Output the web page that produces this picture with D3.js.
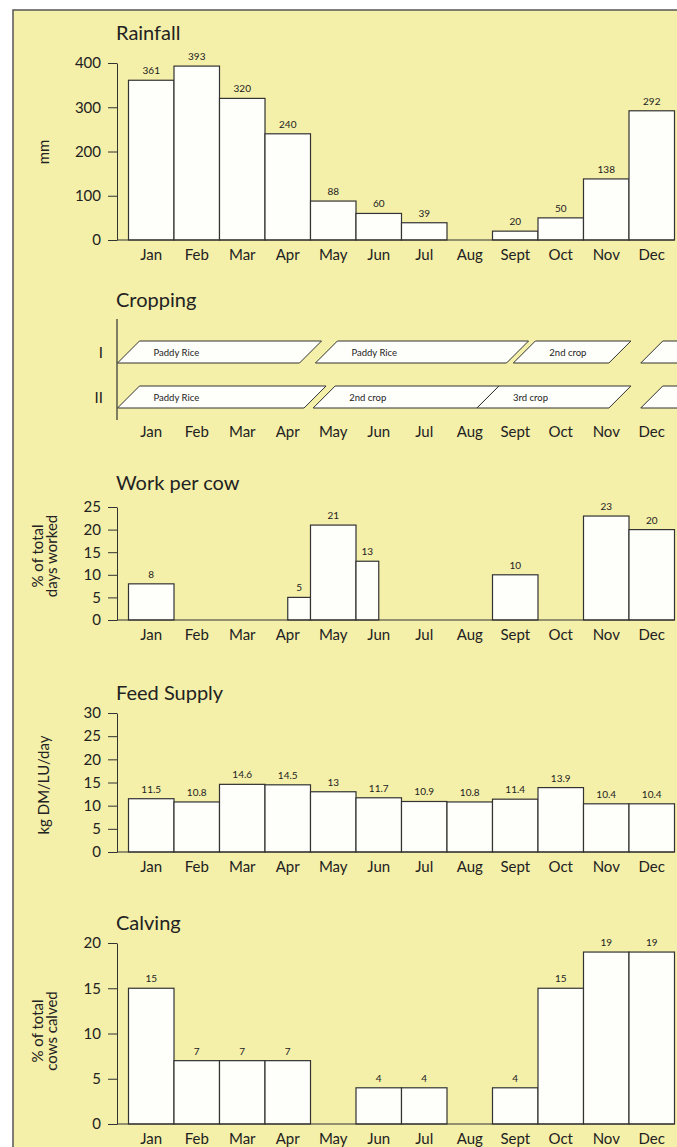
<!DOCTYPE html>
<html>
<head>
<meta charset="utf-8">
<script src="https://cdn.jsdelivr.net/npm/d3@7"></script>
<style>
  body { margin: 0; background: #fff; }
  svg { display: block; font-family: Lato, "Noto Sans", sans-serif; }
</style>
</head>
<body>
<div id="chart"></div>
<script>
// data
const months = ["Jan", "Feb", "Mar", "Apr", "May", "Jun", "Jul", "Aug", "Sept", "Oct", "Nov", "Dec"];

const rainfall = [361, 393, 320, 240, 88, 60, 39, null, 20, 50, 138, 292];
const rainTicks = [0, 100, 200, 300, 400];

const workPerCow = [8, null, null, 5, 21, 13, null, null, 10, null, 23, 20];
// part of the month covered by the work bar (from, to)
const workFrom = [0, null, null, 0.5, 0, 0, null, null, 0, null, 0, 0];
const workTo = [1, null, null, 1, 1, 0.5, null, null, 1, null, 1, 1];
const workTicks = [0, 5, 10, 15, 20, 25];

const feedSupply = [11.5, 10.8, 14.6, 14.5, 13, 11.7, 10.9, 10.8, 11.4, 13.9, 10.4, 10.4];
const feedTicks = [0, 5, 10, 15, 20, 25, 30];

const calving = [15, 7, 7, 7, null, 4, 4, null, 4, 15, 19, 19];
const calvTicks = [0, 5, 10, 15, 20];

// cropping periods, in months from 1 Jan
const cropRows = ["I", "II"];
const cropRow = ["I", "I", "I", "I", "II", "II", "II", "II"];
const cropName = ["Paddy Rice", "Paddy Rice", "2nd crop", "", "Paddy Rice", "2nd crop", "3rd crop", ""];
const cropStart = [0, 4.35, 8.7, 11.5, 0, 4.3, 7.9, 11.5];
const cropEnd = [4, 8.55, 10.8, 13, 4.1, 7.9, 10.8, 13];

const W = 677, H = 1147;
const ink = "#222", line = "#333";

const svg = d3.select("#chart").append("svg")
  .attr("width", W)
  .attr("height", H);

svg.append("rect")
  .attr("x", 13).attr("y", 10)
  .attr("width", W - 13).attr("height", H - 10)
  .attr("fill", "#f4efa9");

svg.append("path")
  .attr("d", "M13," + H + "V10H" + W)
  .attr("fill", "none")
  .attr("stroke", "#555")
  .attr("stroke-width", 1.5);

const axisX = 117;
const x = d3.scaleBand().domain(months).range([128.5, 674.5]);
const xm = d3.scaleLinear().domain([0, 12]).range([128.5, 674.5]);

function title(text, y) {
  svg.append("text")
    .attr("x", 116).attr("y", y)
    .attr("font-size", 20)
    .attr("fill", ink)
    .text(text);
}

function yLabel(lines, cx, cy) {
  lines.forEach((t, i) => {
    svg.append("text")
      .attr("transform", "translate(" + (cx + i * 14) + "," + cy + ") rotate(-90)")
      .attr("text-anchor", "middle")
      .attr("dominant-baseline", "central")
      .attr("font-size", 15)
      .attr("fill", ink)
      .text(t);
  });
}

function monthAxis(yPos) {
  const g = svg.append("g")
    .attr("transform", "translate(0," + yPos + ")")
    .call(d3.axisBottom(x).tickSize(0).tickPadding(9));
  g.select(".domain").remove();
  g.attr("font-family", null).attr("font-size", 15);
  g.selectAll("text").attr("fill", ink);
}

function barPanel(o) {
  const y = d3.scaleLinear().domain([0, d3.max(o.ticks)]).range([o.base, o.top]);
  title(o.title, o.titleY);
  yLabel(o.yLabel, o.yLabelX, o.yLabelY);

  const ya = svg.append("g")
    .attr("transform", "translate(" + axisX + ",0)")
    .call(d3.axisLeft(y).tickValues(o.ticks).tickSize(9).tickSizeOuter(0).tickPadding(7));
  ya.attr("font-family", null).attr("font-size", 15);
  ya.selectAll("text").attr("fill", ink);
  ya.selectAll("line, path").attr("stroke", line);

  const idx = o.values.map((v, i) => i).filter((i) => o.values[i] != null);
  const from = (i) => o.from ? o.from[i] : 0;
  const to = (i) => o.to ? o.to[i] : 1;

  svg.append("g").selectAll("rect")
    .data(idx)
    .enter()
    .append("rect")
    .attr("x", (i) => xm(i + from(i)))
    .attr("width", (i) => xm(i + to(i)) - xm(i + from(i)))
    .attr("y", (i) => y(o.values[i]))
    .attr("height", (i) => o.base - y(o.values[i]))
    .attr("fill", "#fefefb")
    .attr("stroke", line)
    .attr("stroke-width", 1.2);

  svg.append("g").selectAll("text")
    .data(idx)
    .enter()
    .append("text")
    .attr("x", (i) => (xm(i + from(i)) + xm(i + to(i))) / 2)
    .attr("y", (i) => y(o.values[i]) - 6)
    .attr("text-anchor", "middle")
    .attr("font-size", 10)
    .attr("fill", ink)
    .text((i) => o.values[i]);

  svg.append("line")
    .attr("x1", axisX).attr("x2", 674.5)
    .attr("y1", o.base).attr("y2", o.base)
    .attr("stroke", line)
    .attr("stroke-width", 1.2);

  monthAxis(o.base);
}

// Rainfall
barPanel({
  title: "Rainfall", titleY: 40,
  top: 63, base: 240, ticks: rainTicks, values: rainfall,
  yLabel: ["mm"], yLabelX: 43, yLabelY: 152
});

// Cropping
title("Cropping", 307);
svg.append("line")
  .attr("x1", axisX).attr("x2", axisX)
  .attr("y1", 319).attr("y2", 420)
  .attr("stroke", line)
  .attr("stroke-width", 1.2);

const yRow = d3.scaleBand().domain(cropRows).range([341, 408]).paddingInner(23 / 45);
const slant = yRow.bandwidth();

svg.append("g").selectAll("text")
  .data(cropRows)
  .enter()
  .append("text")
  .attr("x", 103)
  .attr("y", (r) => yRow(r) + yRow.bandwidth() / 2)
  .attr("text-anchor", "end")
  .attr("dominant-baseline", "central")
  .attr("font-size", 15)
  .attr("fill", ink)
  .text((r) => r);

const crops = cropName.map((n, i) => i);
svg.append("g").selectAll("path")
  .data(crops)
  .enter()
  .append("path")
  .attr("d", (i) => {
    const t = yRow(cropRow[i]), b = t + yRow.bandwidth();
    const a = xm(cropStart[i]), e = xm(cropEnd[i]);
    return "M" + (a - slant / 2) + "," + b + "L" + (a + slant / 2) + "," + t +
      "L" + (e + slant / 2) + "," + t + "L" + (e - slant / 2) + "," + b + "Z";
  })
  .attr("fill", "#fefefb")
  .attr("stroke", line)
  .attr("stroke-width", 1);

svg.append("g").selectAll("text")
  .data(crops.filter((i) => cropName[i]))
  .enter()
  .append("text")
  .attr("x", (i) => xm(cropStart[i]) + slant / 2 + 14)
  .attr("y", (i) => yRow(cropRow[i]) + yRow.bandwidth() / 2)
  .attr("dominant-baseline", "central")
  .attr("font-size", 9.5)
  .attr("fill", ink)
  .text((i) => cropName[i]);

monthAxis(417);

// Work per cow
barPanel({
  title: "Work per cow", titleY: 490,
  top: 507, base: 620, ticks: workTicks, values: workPerCow,
  from: workFrom, to: workTo,
  yLabel: ["% of total", "days worked"], yLabelX: 37, yLabelY: 556
});

// Feed supply
barPanel({
  title: "Feed Supply", titleY: 700,
  top: 713, base: 852, ticks: feedTicks, values: feedSupply,
  yLabel: ["kg DM/LU/day"], yLabelX: 43, yLabelY: 785
});

// Calving
barPanel({
  title: "Calving", titleY: 930,
  top: 943, base: 1124, ticks: calvTicks, values: calving,
  yLabel: ["% of total", "cows calved"], yLabelX: 37, yLabelY: 1031
});
</script>
</body>
</html>
